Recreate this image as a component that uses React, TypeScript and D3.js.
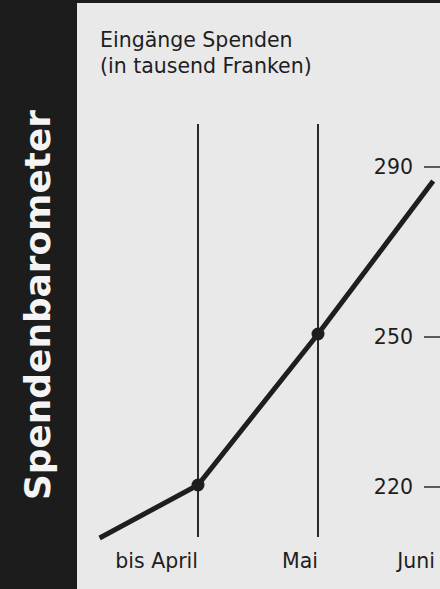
import * as d3 from 'd3';

const W = 440;
const H = 589;

// x: 1 = bis April, 2 = Mai, 3 = Juni
const months = ['bis April', 'Mai', 'Juni'];
const tickValues = [220, 250, 290];
const linePos = [0.18, 1, 2, 2.96];
const lineValues = [209.8, 220.4, 250.7, 286.7];
const markerPos = [1, 2];
const markerValues = [220.4, 250.7];
const title = ['Eingänge Spenden', '(in tausend Franken)'];
const sideTitle = 'Spendenbarometer';

export default function App() {
	// the axis is not evenly spaced in the original, so a polylinear scale
	const y = d3.scaleLinear().domain([220, 250, 290]).range([487, 337, 167]);
	const x = d3.scaleLinear().domain([1, 3]).range([198, 438]);

	const line = d3
		.line<number>()
		.x((d, i) => x(linePos[i]))
		.y((d) => y(d));

	const font = "'DejaVu Sans', sans-serif";
	const plotTop = 124;
	const plotBottom = 537;

	return (
		<div style={{ position: 'fixed', left: 0, top: 0 }}>
			<svg width={W} height={H} style={{ display: 'block' }}>
				<rect x={0} y={0} width={W} height={H} fill='#e9e9e9' />
				<rect x={0} y={0} width={W} height={3} fill='#1c1c1c' />
				<rect x={0} y={0} width={77} height={H} fill='#1c1c1c' />

				<text
					transform='translate(50,500) rotate(-90)'
					fill='#f4f4f4'
					fontFamily={font}
					fontWeight={700}
					fontSize={36}
					textLength={390}
					lengthAdjust='spacingAndGlyphs'>
					{sideTitle}
				</text>

				{title.map((t, i) => (
					<text
						key={i}
						x={100}
						y={47 + i * 26}
						fill='#1e1e1e'
						fontFamily={font}
						fontSize={20.5}>
						{t}
					</text>
				))}

				{/* month guides */}
				{months.slice(0, 2).map((m, i) => (
					<line
						key={m}
						x1={x(i + 1)}
						x2={x(i + 1)}
						y1={plotTop}
						y2={plotBottom}
						stroke='#2a2a2a'
						strokeWidth={2}
					/>
				))}

				{months.map((m, i) => (
					<text
						key={m}
						x={x(i + 1) - (i === 2 ? 3 : 0)}
						y={568}
						textAnchor='end'
						fill='#1e1e1e'
						fontFamily={font}
						fontSize={20.5}>
						{m}
					</text>
				))}

				{/* y ticks on the right */}
				{tickValues.map((v) => (
					<g key={v} transform={`translate(0,${y(v)})`}>
						<line x1={424} x2={440} stroke='#2a2a2a' strokeWidth={1.5} />
						<text
							x={413}
							dy='0.35em'
							textAnchor='end'
							fill='#1e1e1e'
							fontFamily={font}
							fontSize={20.5}>
							{v}
						</text>
					</g>
				))}

				<path
					d={line(lineValues) || ''}
					fill='none'
					stroke='#1e1e1e'
					strokeWidth={5}
				/>

				{markerValues.map((v, i) => (
					<circle
						key={i}
						cx={x(markerPos[i])}
						cy={y(v)}
						r={6.5}
						fill='#1e1e1e'
					/>
				))}
			</svg>
		</div>
	);
}
